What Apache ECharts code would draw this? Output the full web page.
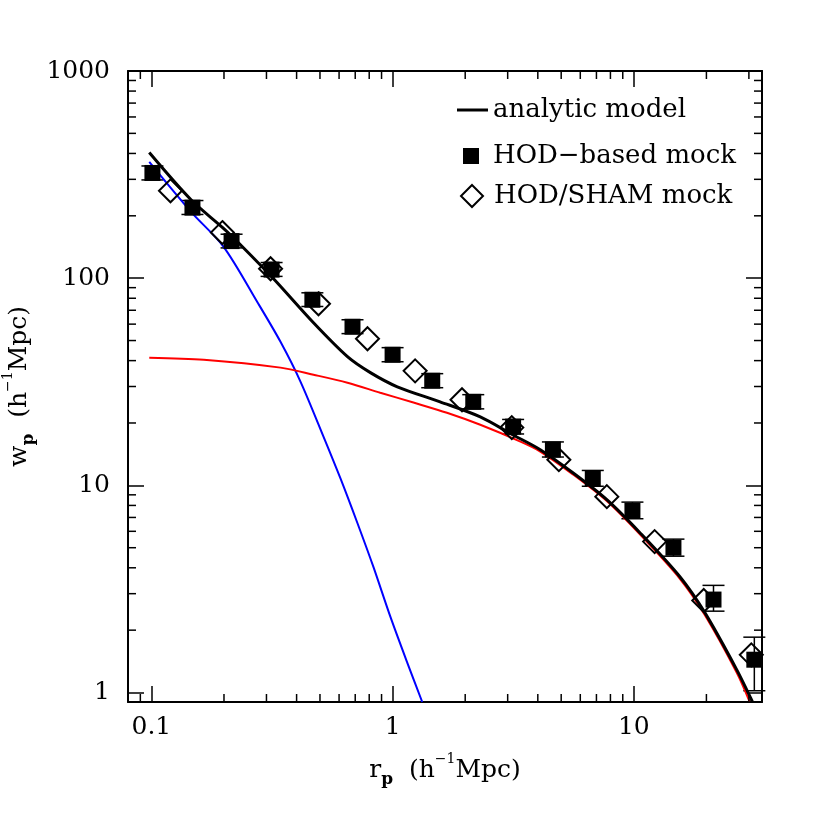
<!DOCTYPE html>
<html>
<head>
<meta charset="utf-8">
<script src="https://cdn.jsdelivr.net/npm/echarts@6/dist/echarts.min.js"></script>
<style>
  html, body { margin: 0; padding: 0; background: #fff; }
  #chart { width: 830px; height: 830px; }
</style>
</head>
<body>
<div id="chart"></div>
<script>
// analytic model (total)
const modelR = [0.098, 0.146, 0.199, 0.234, 0.321, 0.470, 0.650, 0.809, 1.046, 1.574, 2.31, 3.16, 4.08, 5.59, 7.73, 10.6, 15.5, 19.7, 26.7, 31.0]
const modelW = [404, 239, 174, 145, 99.3, 60.9, 41.8, 35.0, 29.9, 25.3, 21.4, 17.5, 14.9, 11.5, 8.53, 5.91, 3.63, 2.43, 1.29, 0.905]

// one-halo term (blue)
const oneHaloR = [0.098, 0.146, 0.199, 0.276, 0.343, 0.415, 0.517, 0.608, 0.714, 0.832, 0.978, 1.15, 1.327]
const oneHaloW = [364, 209, 142, 76.1, 49.3, 31.7, 17.2, 10.8, 6.6, 4.05, 2.33, 1.395, 0.9]

// two-halo term (red)
const twoHaloR = [0.098, 0.165, 0.343, 0.47, 0.65, 0.889, 1.22, 1.68, 2.31, 3.37, 4.08, 5.59, 7.73, 10.6, 15.5, 19.7, 26.7, 30.2]
const twoHaloW = [41.3, 40.4, 37.0, 34.2, 31.3, 28.0, 25.1, 22.4, 19.6, 16.3, 14.6, 11.3, 8.4, 5.8, 3.55, 2.37, 1.25, 0.905]

// HOD-based mock (filled squares with error bars)
const hodR = [0.101, 0.148, 0.215, 0.315, 0.465, 0.682, 1.0, 1.46, 2.16, 3.16, 4.62, 6.76, 9.87, 14.6, 21.4, 31.6]
const hodW = [322, 219, 151, 110, 78.7, 58.3, 42.7, 32.0, 25.3, 19.2, 14.9, 10.8, 7.55, 5.0, 2.81, 1.44]
const hodLo = [298, 203, 140, 102, 73, 54, 39.5, 29.6, 23.4, 17.7, 13.7, 9.9, 6.9, 4.55, 2.47, 1.02]
const hodHi = [348, 237, 163, 119, 85, 63, 46.2, 34.6, 27.4, 20.8, 16.2, 11.8, 8.3, 5.5, 3.29, 1.85]

// HOD/SHAM mock (open diamonds)
const shamR = [0.120, 0.197, 0.312, 0.493, 0.787, 1.24, 1.94, 3.12, 4.89, 7.73, 12.2, 19.5, 30.7]
const shamW = [264, 166, 111, 75.2, 51, 35.7, 25.9, 19.0, 13.3, 8.82, 5.35, 2.78, 1.52]

// minor tick positions
const xMinor = [0.09, 0.2, 0.3, 0.4, 0.5, 0.6, 0.7, 0.8, 0.9, 2, 3, 4, 5, 6, 7, 8, 9, 20, 30]
const yMinor = [2, 3, 4, 5, 6, 7, 8, 9, 20, 30, 40, 50, 60, 70, 80, 90, 200, 300, 400, 500, 600, 700, 800, 900]

const zip = (a, b) => a.map((v, i) => [v, b[i]])

const FONT = 'DejaVu Serif'
const tickStyle = { color: '#000', width: 1.5 }
const lineStyle = { stroke: '#000', lineWidth: 1.5 }
const fmt = v => String(+(+v).toPrecision(6))

const nameRich = {
  m: { fontFamily: FONT, fontSize: 25, color: '#000', lineHeight: 36 },
  s: { fontFamily: FONT, fontSize: 17, fontWeight: 'bold', color: '#000', verticalAlign: 'bottom', lineHeight: 17 },
  u: { fontFamily: FONT, fontSize: 14, color: '#000', verticalAlign: 'top', lineHeight: 14 }
}

const minorXTicks = (params, api) => {
  const cs = params.coordSys
  const px = api.coord([api.value(0), 1])[0]
  const yb = cs.y + cs.height
  return {
    type: 'group',
    children: [
      { type: 'line', shape: { x1: px, y1: yb, x2: px, y2: yb - 8 }, style: lineStyle },
      { type: 'line', shape: { x1: px, y1: cs.y, x2: px, y2: cs.y + 8 }, style: lineStyle }
    ]
  }
}

const minorYTicks = (params, api) => {
  const cs = params.coordSys
  const py = api.coord([1, api.value(1)])[1]
  const xr = cs.x + cs.width
  return {
    type: 'group',
    children: [
      { type: 'line', shape: { x1: cs.x, y1: py, x2: cs.x + 8, y2: py }, style: lineStyle },
      { type: 'line', shape: { x1: xr, y1: py, x2: xr - 8, y2: py }, style: lineStyle }
    ]
  }
}

const errorBars = (params, api) => {
  const x = api.value(0)
  const lo = api.coord([x, api.value(1)])
  const hi = api.coord([x, api.value(2)])
  const hw = 11
  return {
    type: 'group',
    children: [
      { type: 'line', shape: { x1: lo[0], y1: lo[1], x2: hi[0], y2: hi[1] }, style: lineStyle },
      { type: 'line', shape: { x1: lo[0] - hw, y1: lo[1], x2: lo[0] + hw, y2: lo[1] }, style: lineStyle },
      { type: 'line', shape: { x1: hi[0] - hw, y1: hi[1], x2: hi[0] + hw, y2: hi[1] }, style: lineStyle }
    ]
  }
}

const chart = echarts.init(document.getElementById('chart'))

const legendText = { fontFamily: FONT, fontSize: 26, color: '#000' }

const option = {
  backgroundColor: '#fff',
  animation: false,
  grid: { left: 128, right: 68, top: 71, bottom: 128, containLabel: false, outerBoundsMode: 'none' },
  legend: [
    {
      data: [{ name: 'analytic model', icon: 'rect' }], left: 457, top: 97, padding: 0,
      itemWidth: 31, itemHeight: 3, selectedMode: false, textStyle: legendText
    },
    {
      data: [{ name: 'HOD−based mock', icon: 'rect' }], left: 463, top: 143, padding: 0,
      itemWidth: 16, itemHeight: 16, selectedMode: false, textStyle: { ...legendText, padding: [0, 0, 0, 9] }
    },
    {
      data: [{ name: 'HOD/SHAM mock', icon: 'diamond' }], left: 460, top: 183, padding: 0,
      itemWidth: 22, itemHeight: 22, selectedMode: false, textStyle: { ...legendText, padding: [0, 0, 0, 6] }
    }
  ],
  xAxis: [
    {
      type: 'log', min: 0.08, max: 34, position: 'bottom',
      axisLine: { onZero: false, lineStyle: { color: '#000', width: 2 } },
      axisTick: { inside: true, length: 16, lineStyle: tickStyle },
      axisLabel: { showMinLabel: false, showMaxLabel: false, margin: 13, fontFamily: FONT, fontSize: 25, color: '#000', formatter: fmt },
      splitLine: { show: false },
      name: '{m|r}{s|p}{m|  (h}{u|−1}{m|Mpc)}',
      nameLocation: 'middle', nameGap: 50, nameMoveOverlap: false,
      nameTextStyle: { rich: nameRich }
    },
    {
      type: 'log', min: 0.08, max: 34, position: 'top',
      axisLine: { onZero: false, lineStyle: { color: '#000', width: 2 } },
      axisTick: { inside: true, length: 16, lineStyle: tickStyle },
      axisLabel: { show: false },
      splitLine: { show: false }
    }
  ],
  yAxis: [
    {
      type: 'log', min: 0.9, max: 1000, position: 'left',
      axisLine: { onZero: false, lineStyle: { color: '#000', width: 2 } },
      axisTick: { inside: true, length: 16, lineStyle: tickStyle },
      axisLabel: { showMinLabel: false, margin: 18, fontFamily: FONT, fontSize: 25, color: '#000', formatter: fmt },
      splitLine: { show: false },
      name: '{m|w}{s|p}{m|  (h}{u|−1}{m|Mpc)}',
      nameLocation: 'middle', nameGap: 91, nameMoveOverlap: false,
      nameTextStyle: { rich: nameRich }
    },
    {
      type: 'log', min: 0.9, max: 1000, position: 'right',
      axisLine: { onZero: false, lineStyle: { color: '#000', width: 2 } },
      axisTick: { inside: true, length: 16, lineStyle: tickStyle },
      axisLabel: { show: false },
      splitLine: { show: false }
    }
  ],
  series: [
    {
      type: 'custom', name: 'xminor', renderItem: minorXTicks, silent: true,
      data: xMinor.map(v => [v, 1]), z: 5
    },
    {
      type: 'custom', name: 'yminor', renderItem: minorYTicks, silent: true,
      data: yMinor.map(v => [1, v]), z: 5
    },
    {
      type: 'line', name: 'one-halo', data: zip(oneHaloR, oneHaloW), symbol: 'none', smooth: 0.3,
      lineStyle: { color: '#0000ff', width: 2 }, itemStyle: { color: '#0000ff' }
    },
    {
      type: 'line', name: 'two-halo', data: zip(twoHaloR, twoHaloW), symbol: 'none', smooth: 0.3,
      lineStyle: { color: '#ff0000', width: 2 }, itemStyle: { color: '#ff0000' }
    },
    {
      type: 'line', name: 'analytic model', data: zip(modelR, modelW), symbol: 'none', smooth: 0.3,
      lineStyle: { color: '#000', width: 3 }, itemStyle: { color: '#000' }
    },
    {
      type: 'custom', name: 'errors', renderItem: errorBars, silent: true,
      data: hodR.map((r, i) => [r, hodLo[i], hodHi[i]]), z: 3
    },
    {
      type: 'scatter', name: 'HOD−based mock', data: zip(hodR, hodW), symbol: 'rect', symbolSize: 16,
      itemStyle: { color: '#000', opacity: 1 }, z: 4
    },
    {
      type: 'scatter', name: 'HOD/SHAM mock', data: zip(shamR, shamW), symbol: 'diamond', symbolSize: 23,
      itemStyle: { color: 'rgba(0,0,0,0)', borderColor: '#000', borderWidth: 2, opacity: 1 }, z: 4
    }
  ]
}

chart.setOption(option)
</script>
</body>
</html>
